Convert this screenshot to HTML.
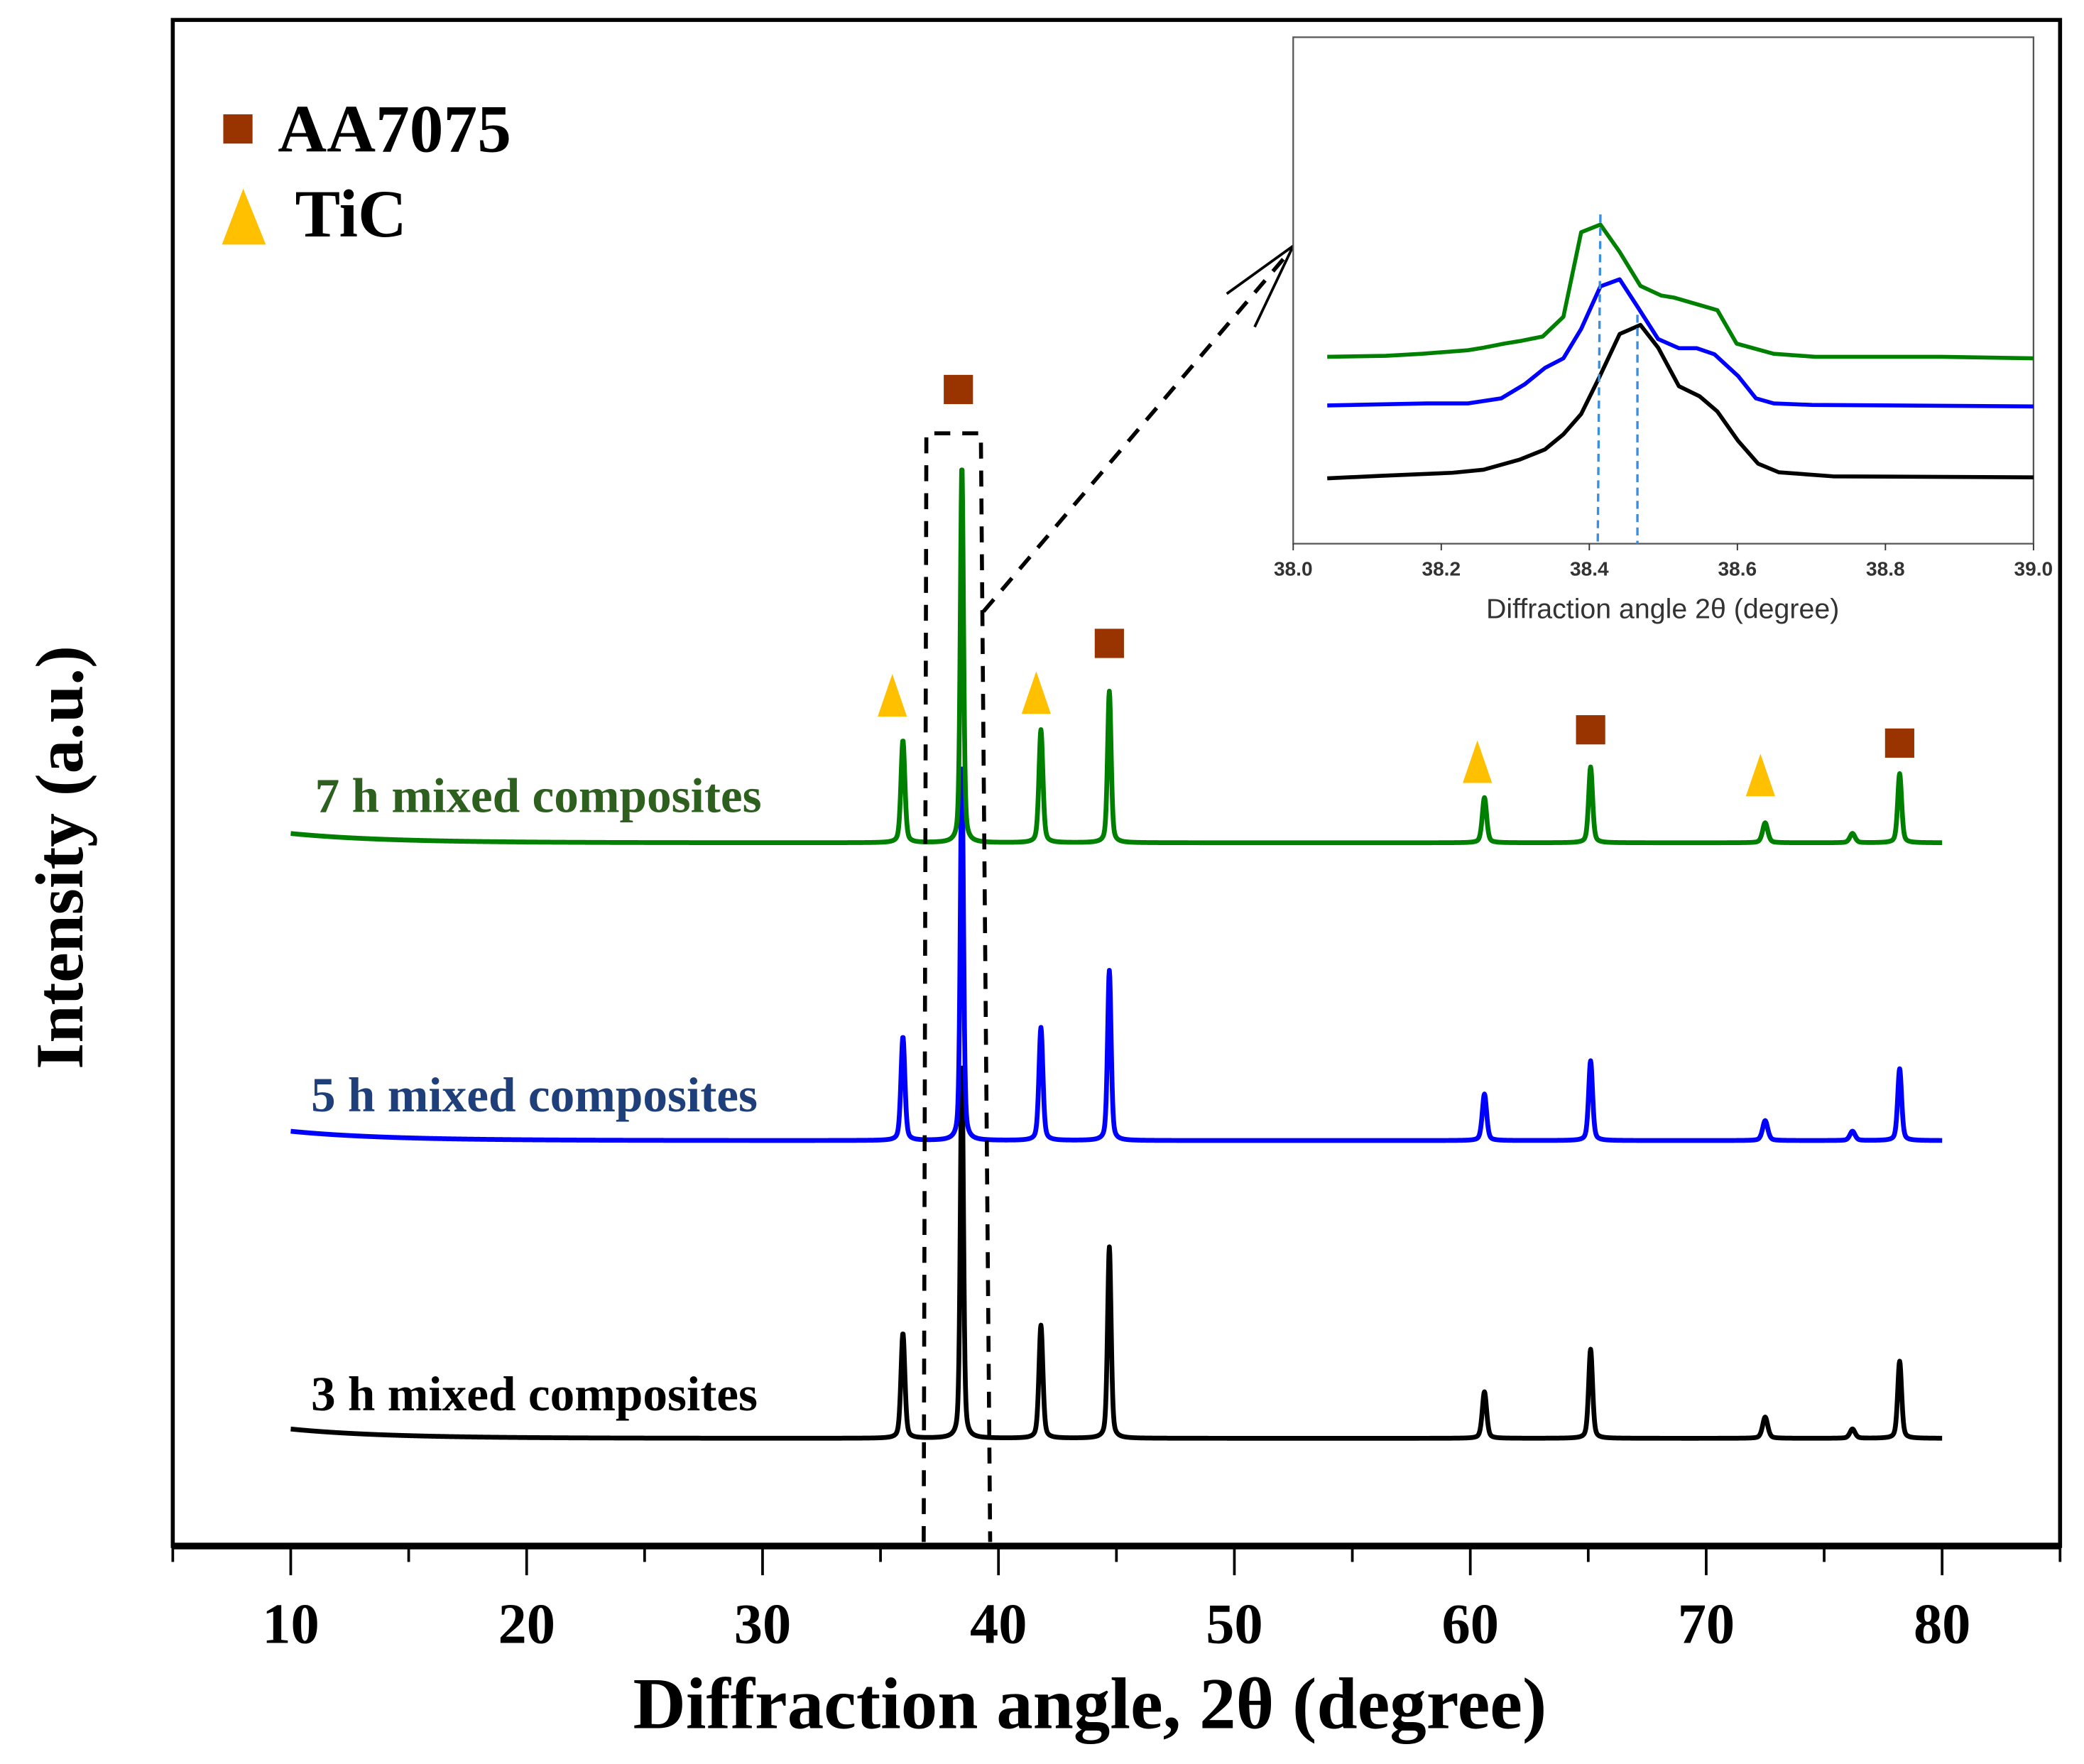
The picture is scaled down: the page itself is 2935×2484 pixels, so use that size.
<!DOCTYPE html>
<html><head><meta charset="utf-8"><style>
html,body{margin:0;padding:0;background:#fff;}
svg{display:block;}
.serif{font-family:"Liberation Serif",serif;font-weight:bold;}
.sans{font-family:"Liberation Sans",sans-serif;}
</style></head><body>
<svg id="chart" width="2935" height="2484" viewBox="0 0 1568 1327" preserveAspectRatio="none" xmlns="http://www.w3.org/2000/svg">
<g id="main"></g>
<g id="inset"></g>
</svg>
<script>
// ---- Main chart data ----
const peakPositions = [35.95, 38.45, 41.8, 44.7, 60.6, 65.1, 72.5, 76.2, 78.2];
const peakWidths    = [0.1, 0.08, 0.1, 0.09, 0.11, 0.1, 0.13, 0.13, 0.1];
const seriesNames = ["7 h mixed composites","5 h mixed composites","3 h mixed composites"];
const seriesBaselines = [529, 305, 81];
const heights7h = [77, 284, 85, 114, 34, 57, 15, 7, 52];
const heights5h = [78, 283, 85, 128, 35, 60, 15, 7, 54];
const heights3h = [79, 282, 85, 144, 35, 67, 16, 7, 58];
const startRise = [7, 7, 7];
const xTicks = [10, 20, 30, 40, 50, 60, 70, 80];
const xMinorTicks = [5, 15, 25, 35, 45, 55, 65, 75, 85];
const aaPeaks = [38.3, 44.7, 65.1, 78.2];
const aaMarkerHeights = [870, 679, 614, 604];
const ticPeaks = [35.5, 41.6, 60.3, 72.3];
const ticMarkerHeights = [640, 642, 590, 580];

// ---- Inset data ----
const insetTicks = [38.0, 38.2, 38.4, 38.6, 38.8, 39.0];
const inset7hX = [38.046,38.125,38.174,38.236,38.257,38.285,38.306,38.337,38.365,38.389,38.415,38.441,38.469,38.497,38.514,38.573,38.599,38.649,38.705,38.875,39.0];
const inset7hY = [36.9,37.1,37.5,38.2,38.7,39.5,40.0,40.9,44.8,61.5,63.0,57.6,50.9,49.0,48.6,46.1,39.5,37.5,36.9,36.9,36.6];
const inset5hX = [38.046,38.181,38.236,38.281,38.313,38.340,38.365,38.389,38.415,38.441,38.465,38.493,38.521,38.545,38.569,38.601,38.625,38.649,38.701,39.0];
const inset5hY = [27.3,27.7,27.7,28.7,31.5,34.7,36.6,42.4,50.8,52.2,46.8,40.4,38.6,38.6,37.4,33.1,28.7,27.7,27.4,27.1];
const inset3hX = [38.046,38.118,38.215,38.257,38.306,38.340,38.365,38.389,38.413,38.441,38.469,38.493,38.521,38.549,38.573,38.601,38.628,38.656,38.729,39.0];
const inset3hY = [12.9,13.4,14.0,14.6,16.6,18.6,21.6,25.6,32.7,41.4,43.2,38.7,31.1,29.1,26.1,20.3,15.8,14.1,13.3,13.1];
const insetMarkers = [38.415, 38.465];

const NS = "http://www.w3.org/2000/svg";
function mk(tag, attrs, parent){const e=document.createElementNS(NS,tag);for(const k in attrs)e.setAttribute(k,attrs[k]);parent.appendChild(e);return e;}
const main = document.getElementById('main');
const inset = document.getElementById('inset');

const X0=130, X1=1550, Y0=15, Y1=1163;
const xs = v => X0 + (v-5)/(85-5)*(X1-X0);
const ys = v => Y1 - v;

let f = mk('rect',{x:X0,y:Y0,width:X1-X0,height:Y1-Y0,fill:'none',stroke:'#000','stroke-width':3},main);
 
let ax = mk('line',{x1:X0,y1:Y1,x2:X1,y2:Y1,stroke:'#000','stroke-width':5},main);
 
xTicks.forEach(t=>{
  const l=mk('line',{x1:xs(t),y1:Y1,x2:xs(t),y2:Y1+22,stroke:'#000','stroke-width':2},main);
   
  const tx=mk('text',{x:xs(t),y:1236,'text-anchor':'middle','font-size':43,class:'serif'},main);
  tx.textContent=t;
   
});
xMinorTicks.forEach(t=>{
  const l=mk('line',{x1:xs(t),y1:Y1,x2:xs(t),y2:Y1+12,stroke:'#000','stroke-width':2},main);
   
});
let xt=mk('text',{x:820,y:1300,'text-anchor':'middle','font-size':55,class:'serif'},main);
xt.textContent='Diffraction angle, 2θ (degree)';
 
let yt=mk('text',{x:0,y:0,'text-anchor':'middle','font-size':51,class:'serif',transform:'translate(62,645) rotate(-90)'},main);
yt.textContent='Intensity (a.u.)';
 

const colors=['#008000','#0000ff','#000000'];
const labelColors=['#2d5f1e','#1f3f7a','#000000'];
const allHeights=[heights7h,heights5h,heights3h];
const labelY=[611,836,1061];
[2,1,0].forEach(s=>{
  let d='';
  for(let i=0;i<=3500;i++){
    const x=10+i*0.02;
    let v=seriesBaselines[s]+startRise[s]*Math.exp(-(x-10)/4);
    peakPositions.forEach((p,k)=>{const w=peakWidths[k];const u=(x-p)/w;v+=allHeights[s][k]*(0.6*Math.exp(-u*u*0.7)+0.4/(1+u*u));});
    d+=(i?'L':'M')+xs(x).toFixed(2)+','+ys(v).toFixed(2);
  }
  const p=mk('path',{d:d,fill:'none',stroke:colors[s],'stroke-width':3.6,'stroke-linejoin':'round'},main);
   
  const lb=mk('text',{x:s===0?237:234,y:labelY[s],'font-size':37,class:'serif',fill:labelColors[s]},main);
  lb.textContent=seriesNames[s];
   
});

aaPeaks.forEach((p,i)=>{
  const r=mk('rect',{x:xs(p)-11,y:ys(aaMarkerHeights[i])-11,width:22,height:22,fill:'#993300'},main);
   
});
ticPeaks.forEach((p,i)=>{
  const cx=xs(p), cy=ys(ticMarkerHeights[i]);
  const t=mk('polygon',{points:`${cx-11},${cy+16} ${cx+11},${cy+16} ${cx},${cy-16}`,fill:'#ffc000'},main);
   
});

let lg=mk('g',{},main);  
let ls=mk('rect',{x:168,y:86,width:22,height:22,fill:'#993300'},lg);
 
let lt1=mk('text',{x:209,y:114,'font-size':51,class:'serif'},lg); lt1.textContent='AA7075';
 
let ltr=mk('polygon',{points:'167,184 200,184 183,142',fill:'#ffc000'},lg);
 
let lt2=mk('text',{x:222,y:178,'font-size':51,class:'serif'},lg); lt2.textContent='TiC';
 

let zb=mk('path',{d:'M695,1160 L697,326 L738,326 L745,1160',fill:'none',stroke:'#000','stroke-width':3,'stroke-dasharray':'12,9'},main);
 
let zl=mk('path',{d:'M740,460 L968,192',fill:'none',stroke:'#000','stroke-width':3,'stroke-dasharray':'12,9'},main);
 
let zh=mk('path',{d:'M923,221 L973,185 L944,246',fill:'none',stroke:'#000','stroke-width':2},main);
 

const IX0=973, IX1=1530, IY0=28, IY1=409;
const ixs=v=>IX0+(v-38)/(1)*(IX1-IX0);
const iys=v=>IY1-v/100*(IY1-IY0);
let ib=mk('rect',{x:IX0,y:IY0,width:IX1-IX0,height:IY1-IY0,fill:'#fff',stroke:'#555','stroke-width':1.2},inset);
 
insetTicks.forEach(t=>{
  const l=mk('line',{x1:ixs(t),y1:IY1,x2:ixs(t),y2:IY1+5,stroke:'#333','stroke-width':1},inset);
   
  const tx=mk('text',{x:ixs(t),y:433,'text-anchor':'middle','font-size':15,'font-weight':'bold',fill:'#333',class:'sans'},inset);
  tx.textContent=t.toFixed(1);
   
});
let it=mk('text',{x:1251,y:465,'text-anchor':'middle','font-size':21,fill:'#333',class:'sans'},inset);
it.textContent='Diffraction angle 2θ (degree)';
 
const insetSeries=[[inset7hX,inset7hY,'#008000','inset-7h'],[inset5hX,inset5hY,'#0000ff','inset-5h'],[inset3hX,inset3hY,'#000','inset-3h']];
insetSeries.forEach(([X,Y,c,n])=>{
  const d=X.map((x,i)=>(i?'L':'M')+ixs(x).toFixed(2)+','+iys(Y[i]).toFixed(2)).join('');
  const p=mk('path',{d:d,fill:'none',stroke:c,'stroke-width':3,'stroke-linejoin':'round'},inset);
   
});
const markerTops=[Math.max(...inset7hY)+2, Math.max(...inset3hY)+2];
insetMarkers.forEach((m,i)=>{
  const l=mk('line',{x1:ixs(m),y1:iys(markerTops[i]),x2:ixs(m)-(i?0:2),y2:IY1,stroke:'#3a8ee0','stroke-width':1.8,'stroke-dasharray':'6,4'},inset);
   
});
</script>
</body></html>
